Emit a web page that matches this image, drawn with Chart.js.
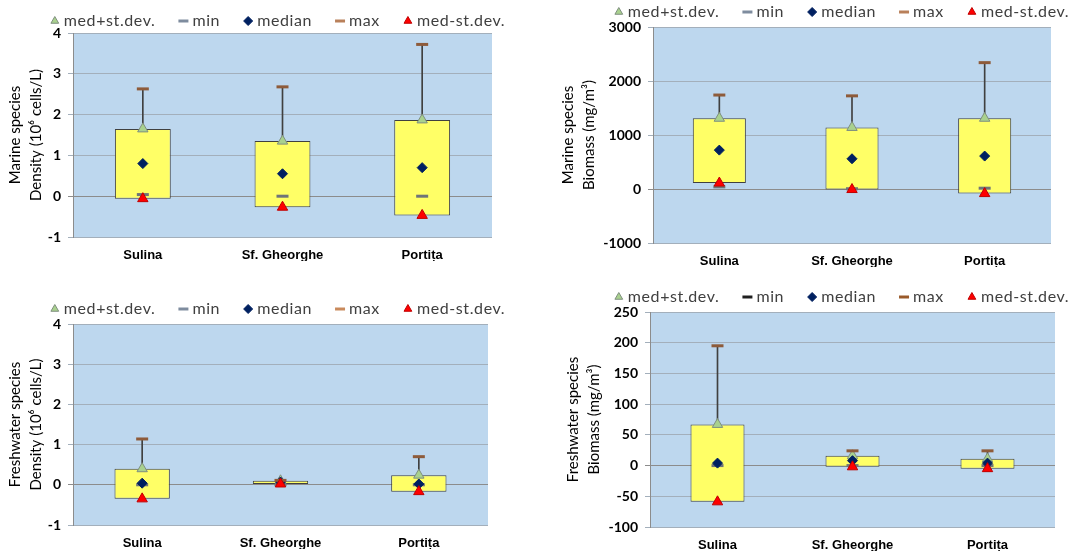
<!DOCTYPE html>
<html>
<head>
<meta charset="utf-8">
<script src="https://cdn.jsdelivr.net/npm/chart.js@4/dist/chart.umd.min.js"></script>
<style>
  body { margin: 0; background: #fff; width: 1076px; height: 555px; position: relative; overflow: hidden; }
  canvas { position: absolute; }
</style>
</head>
<body>
<canvas id="c1" width="540" height="270" style="left:0;top:0"></canvas>
<canvas id="c2" width="536" height="270" style="left:540px;top:0"></canvas>
<canvas id="c3" width="540" height="275" style="left:0;top:280px"></canvas>
<canvas id="c4" width="536" height="275" style="left:540px;top:280px"></canvas>
<script>
const sites = ['Sulina', 'Sf. Gheorghe', 'Portița']
const seriesNames = ['med+st.dev.', 'min', 'median', 'max', 'med-st.dev.']

// marine species density (10^6 cells/L)
const marDensMax = [2.63, 2.68, 3.72]
const marDensPlus = [1.65, 1.35, 1.87]
const marDensMedian = [0.80, 0.55, 0.70]
const marDensMin = [0.04, 0.00, 0.00]
const marDensMinus = [-0.06, -0.27, -0.47]

// marine species biomass (mg/m3)
const marBioMax = [1740, 1725, 2340]
const marBioPlus = [1310, 1140, 1310]
const marBioMedian = [720, 560, 610]
const marBioMin = [40, 5, 15]
const marBioMinus = [110, -10, -85]

// freshwater species density (10^6 cells/L)
const frDensMax = [1.14, 0.11, 0.70]
const frDensPlus = [0.40, 0.10, 0.24]
const frDensMedian = [0.04, 0.07, 0.02]
const frDensMin = [0.00, 0.00, 0.00]
const frDensMinus = [-0.35, 0.02, -0.17]

// freshwater species biomass (mg/m3)
const frBioMax = [195, 24, 24]
const frBioPlus = [67, 16, 11]
const frBioMedian = [4, 8, 4]
const frBioMin = [0, 0, 0]
const frBioMinus = [-59, -2, -5]

const densTicks = [-1, 0, 1, 2, 3, 4]
const marBioTicks = [-1000, 0, 1000, 2000, 3000]
const frBioTicks = [-100, -50, 0, 50, 100, 150, 200, 250]

Chart.defaults.font.family = 'Lato, "Liberation Sans", sans-serif'
Chart.defaults.color = '#000'

const plotBg = {
  id: 'plotBg',
  beforeDraw (chart) {
    const { ctx, chartArea: { left, top, width, height } } = chart
    ctx.save()
    ctx.fillStyle = '#BDD7EE'
    ctx.fillRect(left, top, width, height)
    ctx.restore()
  }
}

// one row of legend entries, drawn above the plot like the Excel legend
const legendRow = {
  id: 'legendRow',
  afterDraw (chart, args, opts) {
    const ctx = chart.ctx
    const items = chart.data.datasets.filter(d => d.type === 'line')
    ctx.save()
    ctx.font = '16px Lato'
    ctx.letterSpacing = '0.6px'
    ctx.textBaseline = 'middle'
    const widths = items.map(d => ctx.measureText(d.label).width)
    const total = widths.reduce((a, b) => a + b, 0) + items.length * 9 + (items.length - 1) * 28 + 4
    let x = opts.centerX - total / 2 + 4
    items.forEach((d, i) => {
      ctx.fillStyle = d.pointBackgroundColor
      ctx.strokeStyle = d.legendColor || d.pointBorderColor
      ctx.lineWidth = d.pointStyle === 'line' ? 3 : 1
      Chart.helpers.drawPoint(ctx, {
        pointStyle: d.pointStyle,
        rotation: 0,
        radius: d.pointStyle === 'line' ? 5 : 4.5,
        borderWidth: ctx.lineWidth
      }, x, opts.y)
      ctx.fillStyle = '#404040'
      ctx.fillText(d.label, x + 9, opts.y)
      x += 9 + widths[i] + 28
    })
    ctx.restore()
  }
}

function build (id, p) {
  const ctx = document.getElementById(id).getContext('2d')
  const canvas = ctx.canvas
  const ticks = p.ticks

  return new Chart(ctx, {
    type: 'bar',
    data: {
      labels: sites,
      datasets: [
        {
          type: 'line', label: seriesNames[0], data: p.plus, showLine: false,
          pointStyle: 'triangle', pointRadius: 6,
          pointBackgroundColor: '#A9D18E', pointBorderColor: '#7F8F7F', pointBorderWidth: 1, order: 5
        },
        {
          type: 'line', label: seriesNames[1], data: p.min, showLine: false,
          pointStyle: 'line', pointRadius: 6,
          pointBackgroundColor: '#6F7478', pointBorderColor: '#6F7478', legendColor: p.minLegend,
          pointBorderWidth: 3, order: 4
        },
        {
          type: 'line', label: seriesNames[2], data: p.median, showLine: false,
          pointStyle: 'rectRot', pointRadius: 5,
          pointBackgroundColor: '#002060', pointBorderColor: '#002060', pointBorderWidth: 1, order: 3
        },
        {
          type: 'line', label: seriesNames[3], data: p.max, showLine: false,
          pointStyle: 'line', pointRadius: 6,
          pointBackgroundColor: '#8E5B3A', pointBorderColor: '#8E5B3A', legendColor: p.maxLegend,
          pointBorderWidth: 3, order: 2
        },
        {
          type: 'line', label: seriesNames[4], data: p.minus, showLine: false,
          pointStyle: 'triangle', pointRadius: 6,
          pointBackgroundColor: '#FF0000', pointBorderColor: '#C00000', pointBorderWidth: 1, order: 1
        },
        {
          // box from med-st.dev. to med+st.dev.
          type: 'bar', label: 'box', data: p.minus.map((v, i) => [v, p.plus[i]]),
          backgroundColor: '#FFFF66', borderColor: '#404040', borderWidth: 1, borderSkipped: false,
          grouped: false, barPercentage: 0.4, categoryPercentage: 1, order: 6
        },
        {
          // high-low line
          type: 'bar', label: 'range', data: p.minus.map((v, i) => [Math.min(v, p.min[i]), p.max[i]]),
          backgroundColor: '#404040', barThickness: 1, grouped: false, order: 7
        }
      ]
    },
    options: {
      responsive: false,
      animation: false,
      layout: {
        padding: {
          left: 0,
          top: p.area.top,
          right: canvas.width - p.area.right,
          bottom: canvas.height - p.area.bottom - 24
        }
      },
      scales: {
        x: {
          grid: { display: false, drawTicks: false },
          border: { display: false },
          ticks: { padding: 11, font: { family: '"Liberation Sans", sans-serif', size: 13, weight: 'bold' } },
          afterFit: function (scale) { scale.height = 24 }
        },
        y: {
          min: ticks[0],
          max: ticks[ticks.length - 1],
          afterBuildTicks: function (scale) { scale.ticks = ticks.map(v => ({ value: v })) },
          grid: {
            color: c => (c.tick && c.tick.value === 0) ? '#8C8C8C' : '#A3AFBB',
            tickLength: 5
          },
          border: { display: true, color: '#8C8C8C' },
          ticks: {
            padding: 7,
            font: { size: 14, weight: 'bold' },
            callback: v => String(v)
          },
          title: {
            display: true,
            text: p.title,
            font: { size: 15, lineHeight: 1.4 },
            padding: { top: p.titlePad, bottom: 0 }
          },
          afterFit: function (scale) { scale.width = p.area.left }
        }
      },
      plugins: {
        legend: { display: false },
        tooltip: { enabled: false },
        legendRow: { centerX: p.legendX, y: p.legendY }
      }
    },
    plugins: [plotBg, legendRow]
  })
}

build('c1', {
  plus: marDensPlus, min: marDensMin, median: marDensMedian, max: marDensMax, minus: marDensMinus,
  ticks: densTicks,
  title: ['Marine species', 'Density (10⁶ cells/L)'],
  area: { left: 73, right: 492, top: 33, bottom: 237 },
  titlePad: 4.5, legendX: 278, legendY: 21, minLegend: '#7E8C9E', maxLegend: '#B9805A'
})

build('c2', {
  plus: marBioPlus, min: marBioMin, median: marBioMedian, max: marBioMax, minus: marBioMinus,
  ticks: marBioTicks,
  title: ['Marine species', 'Biomass (mg/m³)'],
  area: { left: 113, right: 511, top: 27, bottom: 243 },
  titlePad: 17.5, legendX: 302, legendY: 12, minLegend: '#7E8C9E', maxLegend: '#B9805A'
})

build('c3', {
  plus: frDensPlus, min: frDensMin, median: frDensMedian, max: frDensMax, minus: frDensMinus,
  ticks: densTicks,
  title: ['Freshwater species', 'Density (10⁶ cells/L)'],
  area: { left: 73, right: 488, top: 44, bottom: 245 },
  titlePad: 4.5, legendX: 278, legendY: 29, minLegend: '#7E8C9E', maxLegend: '#C98A5C'
})

build('c4', {
  plus: frBioPlus, min: frBioMin, median: frBioMedian, max: frBioMax, minus: frBioMinus,
  ticks: frBioTicks,
  title: ['Freshwater species', 'Biomass (mg/m³)'],
  area: { left: 110, right: 515, top: 32, bottom: 247 },
  titlePad: 22.5, legendX: 302, legendY: 17, minLegend: '#202020', maxLegend: '#9A5A2A'
})
</script>
</body>
</html>
